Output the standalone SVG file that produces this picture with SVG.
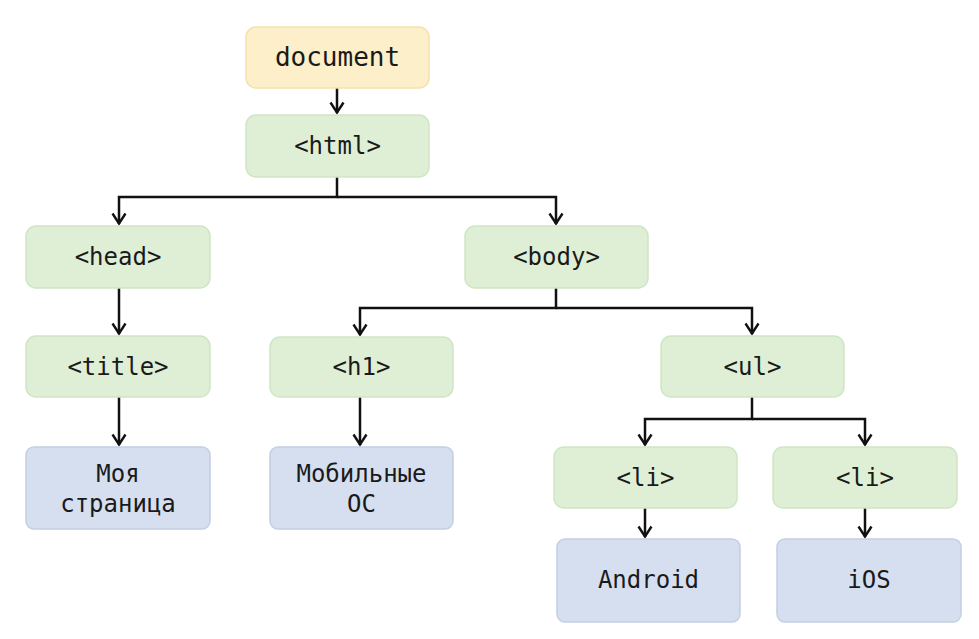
<svg xmlns="http://www.w3.org/2000/svg" width="979" height="639" viewBox="0 0 979 639">
<defs>
<style>
.y{fill:#fcefc9;stroke:#f4e2ac;stroke-width:1.5}
.g{fill:#dfefd6;stroke:#cfe6c4;stroke-width:1.5}
.b{fill:#d6dff0;stroke:#c4cee4;stroke-width:1.5}
text{font-family:"DejaVu Sans Mono","Liberation Mono",monospace;font-size:24px;fill:#1a1a1a;text-anchor:middle}
.c{fill:none;stroke:#111;stroke-width:2.5;stroke-linejoin:miter}
</style>
<marker id="ah" viewBox="0 0 14 16" refX="12.5" refY="8" markerWidth="14" markerHeight="16" markerUnits="userSpaceOnUse" orient="auto">
<path d="M2,1.5 L12,8 L2,14.5" fill="none" stroke="#111" stroke-width="2.4" stroke-linejoin="miter"/>
</marker>
</defs>
<rect width="979" height="639" fill="#ffffff"/>
<g id="connectors">
<path class="c" d="M337,88 V113" marker-end="url(#ah)"/>
<path class="c" d="M337,177 V197 H119 V224" marker-end="url(#ah)"/>
<path class="c" d="M337,197 H556 V224" marker-end="url(#ah)"/>
<path class="c" d="M119,288 V334" marker-end="url(#ah)"/>
<path class="c" d="M119,397 V445" marker-end="url(#ah)"/>
<path class="c" d="M556,288 V308 H360 V335" marker-end="url(#ah)"/>
<path class="c" d="M556,308 H752 V334" marker-end="url(#ah)"/>
<path class="c" d="M360,397 V445" marker-end="url(#ah)"/>
<path class="c" d="M752,397 V419 H645 V445" marker-end="url(#ah)"/>
<path class="c" d="M752,419 H865 V445" marker-end="url(#ah)"/>
<path class="c" d="M645,508 V537" marker-end="url(#ah)"/>
<path class="c" d="M865,508 V537" marker-end="url(#ah)"/>
</g>
<g id="document"><rect class="y" x="246" y="27" width="183" height="61" rx="10"/><text x="337.5" y="66" style="font-size:26px">document</text></g>
<g id="html"><rect class="g" x="246" y="115" width="183" height="62" rx="10"/><text x="337.5" y="154">&lt;html&gt;</text></g>
<g id="head"><rect class="g" x="26" y="226" width="184" height="62" rx="10"/><text x="118" y="265">&lt;head&gt;</text></g>
<g id="body"><rect class="g" x="465" y="226" width="183" height="62" rx="10"/><text x="556.5" y="265">&lt;body&gt;</text></g>
<g id="title"><rect class="g" x="26" y="336" width="184" height="61" rx="10"/><text x="118" y="375">&lt;title&gt;</text></g>
<g id="h1"><rect class="g" x="270" y="337" width="183" height="60" rx="10"/><text x="361.5" y="375">&lt;h1&gt;</text></g>
<g id="ul"><rect class="g" x="661" y="336" width="183" height="61" rx="10"/><text x="752.5" y="375">&lt;ul&gt;</text></g>
<g id="page-title"><rect class="b" x="26" y="447" width="184" height="82" rx="8"/><text x="118" y="482">Моя</text><text x="118" y="512">страница</text></g>
<g id="mobile-os"><rect class="b" x="270" y="447" width="183" height="82" rx="8"/><text x="361.5" y="482">Мобильные</text><text x="361.5" y="512">ОС</text></g>
<g id="li1"><rect class="g" x="554" y="447" width="183" height="61" rx="10"/><text x="645.5" y="486">&lt;li&gt;</text></g>
<g id="li2"><rect class="g" x="773" y="447" width="184" height="61" rx="10"/><text x="865" y="486">&lt;li&gt;</text></g>
<g id="android"><rect class="b" x="557" y="539" width="183" height="83" rx="8"/><text x="648.5" y="588">Android</text></g>
<g id="ios"><rect class="b" x="777" y="539" width="184" height="83" rx="8"/><text x="869" y="588">iOS</text></g>
</svg>
